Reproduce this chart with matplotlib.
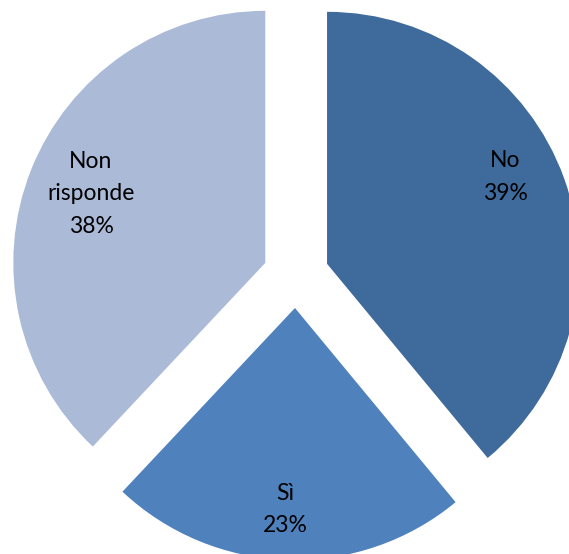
import numpy as np
import matplotlib
matplotlib.use("Agg")
import matplotlib.pyplot as plt

# survey answers, clockwise from 12 o'clock
categories = ["No", "Sì", "Non\nrisponde"]
shares = [39, 23, 38]
colors = ["#3F6A9C", "#4F81BD", "#AABAD7"]

plt.rcParams["font.family"] = ["Lato", "DejaVu Sans"]

W, H = 569, 554
fig = plt.figure(figsize=(W / 100, H / 100), dpi=100)
ax = fig.add_axes([0, 0, 1, 1])

R = 252.0
gap = 33.0
labels = ["%s\n%d%%" % (c, s) for c, s in zip(categories, shares)]
wedges, texts = ax.pie(shares, labels=labels, colors=colors,
                       startangle=90, counterclock=False,
                       radius=R, explode=[gap] * 3,
                       labeldistance=0.77,
                       wedgeprops=dict(linewidth=0),
                       textprops=dict(fontsize=16.5, color="black",
                                      ha="center", va="center",
                                      linespacing=1.66))

# place each label inside its slice: (angle clockwise from top, distance / R)
label_spots = [(64, 0.786), (182.8, 0.80), (291.6, 0.744)]
start = 0.0
for t, s, (ang, dist) in zip(texts, shares, label_spots):
    mid = np.radians(90 - (start + s / 2) * 3.6)
    cx, cy = gap * np.cos(mid), gap * np.sin(mid)
    a = np.radians(90 - ang)
    t.set_position((cx + dist * R * np.cos(a), cy + dist * R * np.sin(a)))
    start += s

ax.set_xlim(-296, W - 296)
ax.set_ylim(-(H - 275), 275)
ax.set_aspect("auto")
ax.axis("off")

fig.savefig("out.png", dpi=100)
